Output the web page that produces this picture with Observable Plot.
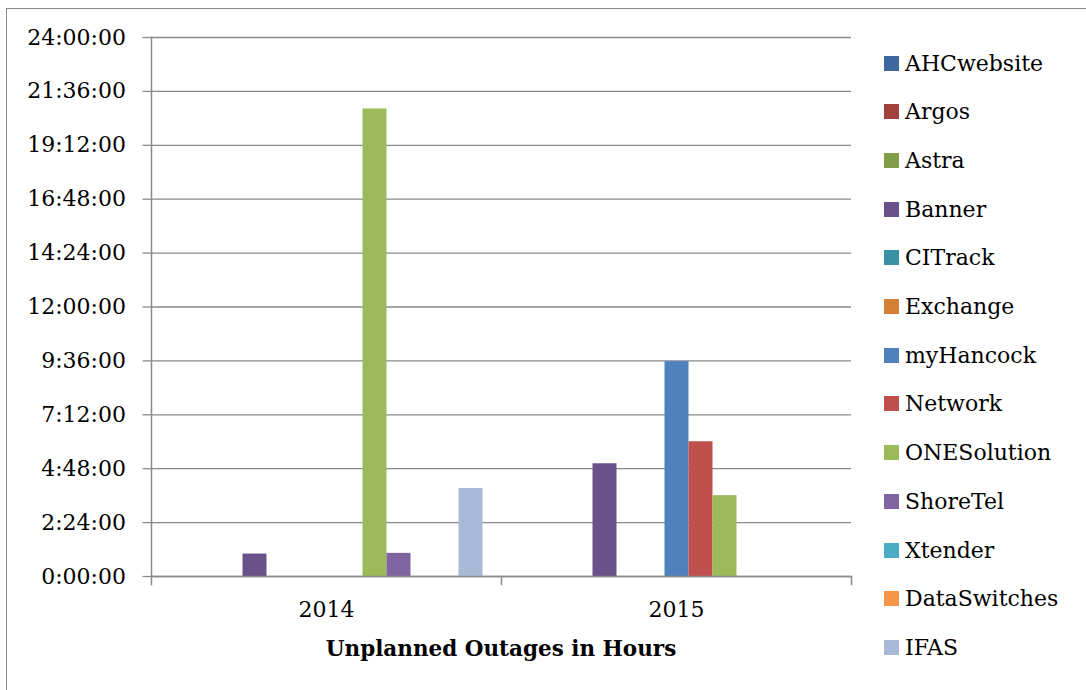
<!DOCTYPE html>
<html>
<head>
<meta charset="utf-8">
<script src="https://cdn.jsdelivr.net/npm/d3@7"></script>
<script src="https://cdn.jsdelivr.net/npm/@observablehq/plot@0.6"></script>
<style>
  html, body { margin: 0; padding: 0; background: #fff; overflow: hidden; }
  #page { position: relative; width: 1086px; height: 690px; overflow: hidden; font-family: "DejaVu Serif", serif; }
  #border { position: absolute; left: 6px; top: 8px; width: 1200px; height: 800px; border-left: 1.5px solid #8a8a8a; border-top: 1.5px solid #8a8a8a; }
  #plot { position: absolute; left: 0; top: 0; }
  #title { position: absolute; left: 150px; width: 702px; top: 636px; text-align: center; font-weight: bold; font-size: 21.5px; line-height: 26px; color: #000; }
  #legend { position: absolute; left: 884px; top: 0; }
  .item { position: absolute; left: 0; height: 30px; display: flex; align-items: center; white-space: nowrap; font-size: 22px; color: #000; }
  .sw { width: 15px; height: 15px; margin-right: 6px; flex: none; }
</style>
</head>
<body>
<div id="page">
  <div id="border"></div>
  <div id="plot"></div>
  <div id="legend"></div>
  <div id="title"></div>
</div>
<script>
// ---- data ----
const years = ["2014", "2015"];
const series = ["AHCwebsite", "Argos", "Astra", "Banner", "CITrack", "Exchange", "myHancock",
                "Network", "ONESolution", "ShoreTel", "Xtender", "DataSwitches", "IFAS"];
const colors = ["#3D689F", "#A2403D", "#809D47", "#6A5189", "#3A91A6", "#D47E36", "#4F81BD",
                "#C0504D", "#9BBB59", "#8064A2", "#4BACC6", "#F79646", "#A9BAD8"];
// outage duration in hours, one value per series
const hours2014 = [0, 0, 0, 1.0, 0, 0, 0, 0, 20.82, 1.03, 0, 0, 3.92];
const hours2015 = [0, 0, 0, 5.02, 0, 0, 9.57, 6.0, 3.6, 0, 0, 0, 0];
const yTicks = [0, 2.4, 4.8, 7.2, 9.6, 12, 14.4, 16.8, 19.2, 21.6, 24];
const yTickLabels = ["0:00:00", "2:24:00", "4:48:00", "7:12:00", "9:36:00", "12:00:00",
                     "14:24:00", "16:48:00", "19:12:00", "21:36:00", "24:00:00"];
const titleText = "Unplanned Outages in Hours";

const table = [];
series.forEach((s, i) => {
  table.push({year: years[0], series: s, hours: hours2014[i]});
  table.push({year: years[1], series: s, hours: hours2015[i]});
});

const grid = "#8a8a8a";
const chart = Plot.plot({
  width: 860,
  height: 630,
  marginLeft: 150.5,
  marginRight: 8.5,
  marginTop: 37,
  marginBottom: 46,
  style: {fontFamily: "DejaVu Serif", fontSize: "22px", color: "#000", background: "transparent"},
  fx: {domain: years, padding: 0, label: null},
  x: {domain: series, paddingInner: 0, paddingOuter: 0.735, axis: null},
  y: {domain: [0, 24], insetBottom: 8, label: null},
  color: {domain: series, range: colors},
  marks: [
    Plot.ruleY(yTicks, {stroke: grid, strokeWidth: 1.3}),
    Plot.barY(table, {fx: "year", x: "series", y: "hours", fill: "series"}),
    Plot.ruleY([0], {stroke: grid, strokeWidth: 1.3}),
    Plot.frame({anchor: "right", insetTop: 539, stroke: grid, strokeWidth: 1.5}),
    Plot.frame({anchor: "left", fx: years[0], stroke: grid, strokeWidth: 1.5}),
    Plot.axisY({ticks: yTicks, tickFormat: (d) => yTickLabels[yTicks.indexOf(d)],
                tickSize: 8.5, tickPadding: 17, fontSize: 22, stroke: grid, strokeWidth: 1.3,
                fill: "#000", label: null}),
    Plot.axisFx({anchor: "bottom", tickSize: 0, tickPadding: 17, fontSize: 22, fill: "#000", label: null})
  ]
});
document.getElementById("plot").appendChild(chart);

// legend
const legend = document.getElementById("legend");
series.forEach((s, i) => {
  const item = document.createElement("div");
  item.className = "item";
  item.style.top = (63 + i * 48.7 - 15) + "px";
  const sw = document.createElement("span");
  sw.className = "sw";
  sw.style.background = colors[i];
  const lab = document.createElement("span");
  lab.textContent = s;
  item.appendChild(sw);
  item.appendChild(lab);
  legend.appendChild(item);
});
document.getElementById("title").textContent = titleText;
</script>
</body>
</html>
